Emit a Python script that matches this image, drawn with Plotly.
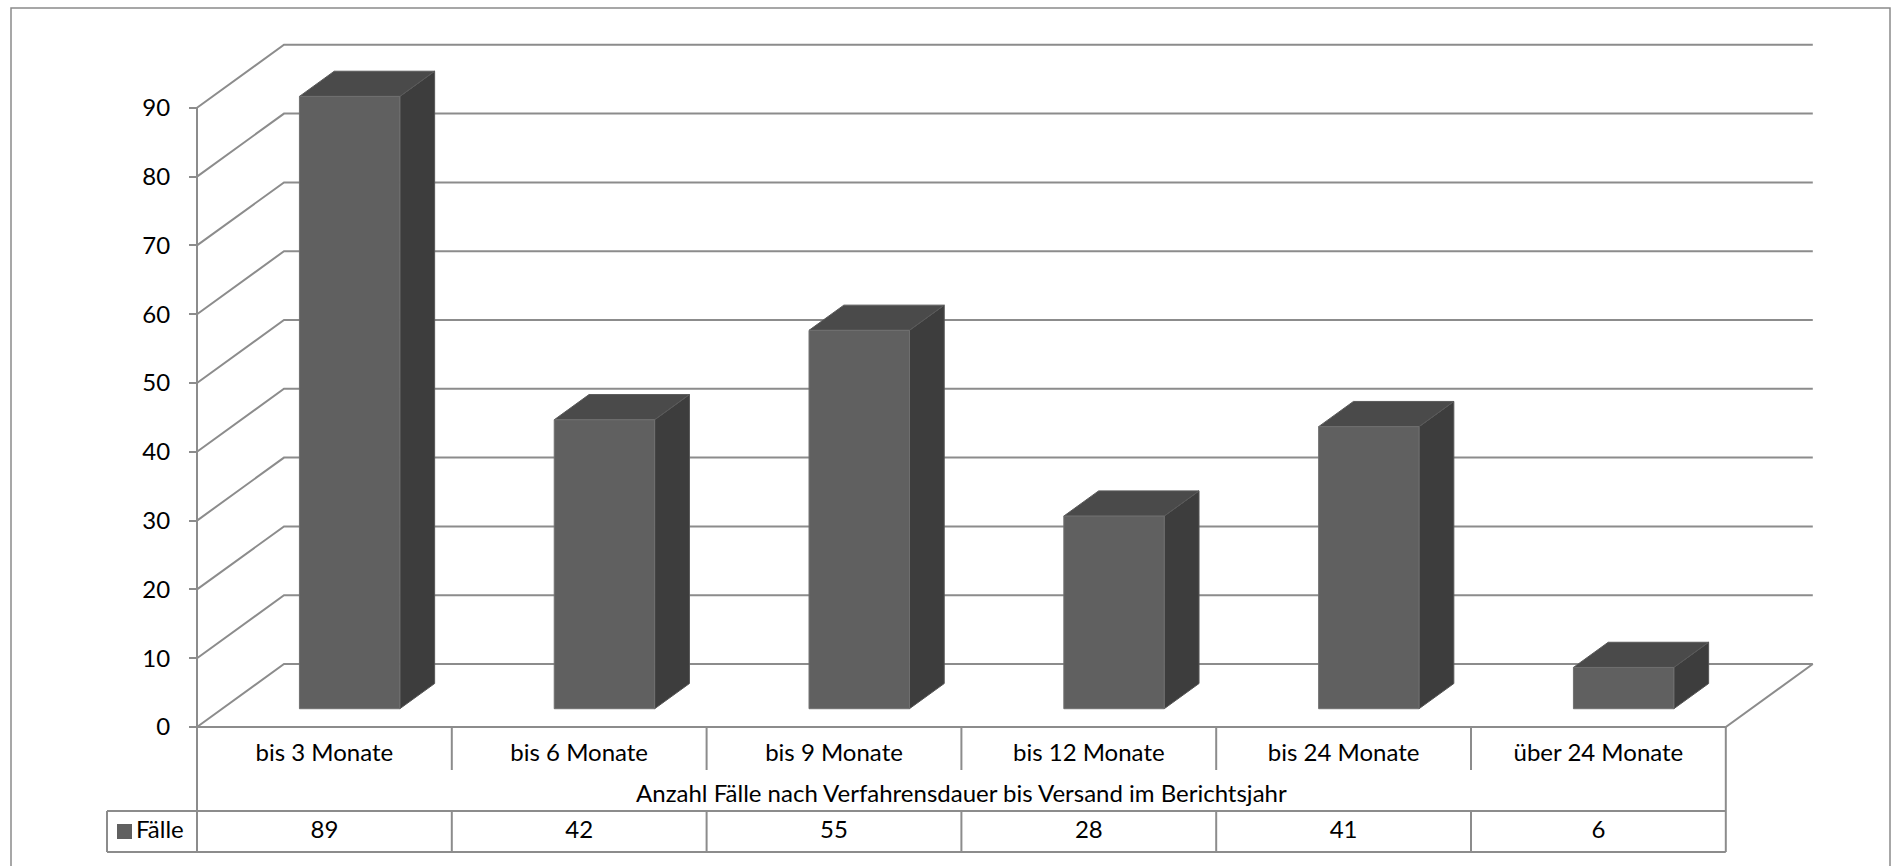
import plotly.graph_objects as go

# ---------------- data ----------------
categories = ["bis 3 Monate", "bis 6 Monate", "bis 9 Monate",
              "bis 12 Monate", "bis 24 Monate", "über 24 Monate"]
faelle = [89, 42, 55, 28, 41, 6]
y_ticks = [0, 10, 20, 30, 40, 50, 60, 70, 80, 90]
series_name = "Fälle"
axis_title = "Anzahl Fälle nach Verfahrensdauer bis Versand im Berichtsjahr"

# ---------------- layout constants (pixels) ----------------
W, H = 1896, 866
AX_PX = 197        # front y-axis x pixel
CAT_PX = 254.8     # width of one category in px
ZERO_PX = 727      # y pixel of value 0 (front)
UNIT_PX = 6.88     # px per value unit
DEPTH_X_PX = 87    # oblique depth offset
DEPTH_Y_PX = 63

x_range = [-0.5 - AX_PX / CAT_PX, -0.5 + (W - AX_PX) / CAT_PX]
y_range = [-(H - ZERO_PX) / UNIT_PX, ZERO_PX / UNIT_PX]
DX = DEPTH_X_PX / CAT_PX
DY = DEPTH_Y_PX / UNIT_PX

n = len(categories)
XL, XR = -0.5, n - 0.5
YMAX = y_ticks[-1]

FONT = "Lato"
FS = 24
GRID = "#8c8c8c"
FRONT = "#606060"
SIDE = "#3d3d3d"
TOP = "#4a4a4a"

fig = go.Figure()

# ---------------- walls / gridlines ----------------
gx, gy = [], []
for t in y_ticks:
    gx += [XL, XL + DX, XR + DX, None]
    gy += [t, t + DY, t + DY, None]
# front axis line
gx += [XL, XL, None]
gy += [0, YMAX, None]
# floor front edge and right edge
gx += [XL, XR, XR + DX, None]
gy += [0, 0, DY, None]
fig.add_trace(go.Scatter(x=gx, y=gy, mode="lines",
                         line=dict(color=GRID, width=2),
                         hoverinfo="skip", showlegend=False))

# ---------------- 3D bars ----------------
HALF = 0.197
F0, F1 = 0.29, 0.69
for i, v in enumerate(faelle):
    xl, xr = i - HALF, i + HALF
    ox0, oy0 = F0 * DX, F0 * DY
    ox1, oy1 = F1 * DX, F1 * DY
    # side face
    fig.add_trace(go.Scatter(
        x=[xr + ox0, xr + ox1, xr + ox1, xr + ox0, xr + ox0],
        y=[oy0, oy1, v + oy1, v + oy0, oy0],
        fill="toself", fillcolor=SIDE, mode="lines",
        line=dict(color="#555555", width=1),
        hoverinfo="skip", showlegend=False))
    # top face
    fig.add_trace(go.Scatter(
        x=[xl + ox0, xr + ox0, xr + ox1, xl + ox1, xl + ox0],
        y=[v + oy0, v + oy0, v + oy1, v + oy1, v + oy0],
        fill="toself", fillcolor=TOP, mode="lines",
        line=dict(color="#5a5a5a", width=1),
        hoverinfo="skip", showlegend=False))
    # front face
    fig.add_trace(go.Scatter(
        x=[xl + ox0, xr + ox0, xr + ox0, xl + ox0, xl + ox0],
        y=[oy0, oy0, v + oy0, v + oy0, oy0],
        fill="toself", fillcolor=FRONT, mode="lines",
        line=dict(color="#707070", width=1),
        hoverinfo="skip", showlegend=False))

# ---------------- data table ----------------
def py(p):
    return (ZERO_PX - p) / UNIT_PX

def px(p):
    return -0.5 + (p - AX_PX) / CAT_PX

ROW_CAT_TXT = py(755)
ROW_CAT_SEP = py(770)
ROW_TITLE_TXT = py(796)
ROW_LINE = py(811)
ROW_VAL_TXT = py(832)
ROW_BOTTOM = py(852)
KEY_LEFT = px(107)

tx, ty = [], []
# outer verticals of table
tx += [XL, XL, None, XR, XR, None]
ty += [0, ROW_BOTTOM, None, 0, ROW_BOTTOM, None]
# category separators (upper row)
for b in range(1, n):
    tx += [b - 0.5, b - 0.5, None]
    ty += [0, ROW_CAT_SEP, None]
# value row separators
for b in range(1, n):
    tx += [b - 0.5, b - 0.5, None]
    ty += [ROW_LINE, ROW_BOTTOM, None]
# key box
tx += [KEY_LEFT, XR, None, KEY_LEFT, XR, None, KEY_LEFT, KEY_LEFT, None]
ty += [ROW_LINE, ROW_LINE, None, ROW_BOTTOM, ROW_BOTTOM, None, ROW_LINE, ROW_BOTTOM, None]
fig.add_trace(go.Scatter(x=tx, y=ty, mode="lines",
                         line=dict(color=GRID, width=2),
                         hoverinfo="skip", showlegend=False))

# category labels
fig.add_trace(go.Scatter(
    x=list(range(n)), y=[ROW_CAT_TXT] * n, mode="text", text=categories,
    textfont=dict(family=FONT, size=FS, color="black"),
    hoverinfo="skip", showlegend=False))
# axis title row
fig.add_trace(go.Scatter(
    x=[(n - 1) / 2], y=[ROW_TITLE_TXT], mode="text", text=[axis_title],
    textfont=dict(family=FONT, size=FS, color="black"),
    hoverinfo="skip", showlegend=False))
# values row
fig.add_trace(go.Scatter(
    x=list(range(n)), y=[ROW_VAL_TXT] * n, mode="text",
    text=[str(v) for v in faelle],
    textfont=dict(family=FONT, size=FS, color="black"),
    hoverinfo="skip", showlegend=False))
# legend key
fig.add_trace(go.Scatter(
    x=[px(124.5)], y=[py(831.5)], mode="markers",
    marker=dict(symbol="square", size=15, color=FRONT, line=dict(width=0)),
    hoverinfo="skip", showlegend=False))
fig.add_trace(go.Scatter(
    x=[px(136)], y=[ROW_VAL_TXT], mode="text",
    text=[series_name], textposition="middle right",
    textfont=dict(family=FONT, size=FS, color="black"),
    hoverinfo="skip", showlegend=False))

# outer chart border
fig.add_shape(type="rect", xref="paper", yref="paper",
              x0=11 / W, x1=1890 / W, y0=-0.05, y1=1 - 8 / H,
              line=dict(color="#8a8a8a", width=1.5), layer="below")

fig.update_layout(
    width=W, height=H,
    margin=dict(l=0, r=0, t=0, b=0),
    paper_bgcolor="white", plot_bgcolor="white",
    showlegend=False,
    xaxis=dict(range=x_range, visible=False, fixedrange=True),
    yaxis=dict(range=y_range, tickvals=y_ticks, ticks="outside", ticklen=8,
               tickwidth=2, tickcolor=GRID, showgrid=False, zeroline=False,
               showline=False, anchor="free", position=AX_PX / W,
               automargin=False, ticklabelstandoff=14,
               tickfont=dict(family=FONT, size=FS, color="black"),
               fixedrange=True),
)

fig.write_html("out.html",
               config={"displayModeBar": False, "staticPlot": True},
               post_script="document.body.style.margin='0';"
                           "document.body.style.overflow='hidden';")
